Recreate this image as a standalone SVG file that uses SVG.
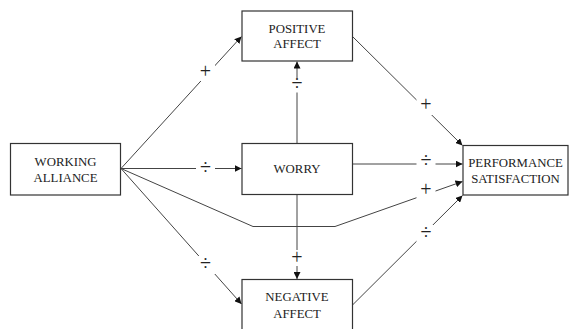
<svg xmlns="http://www.w3.org/2000/svg" width="569" height="329" viewBox="0 0 569 329">
<style>
.box{fill:#fff;stroke:#333;stroke-width:1.2}
.c{fill:none;stroke:#444;stroke-width:1}
.gap{fill:#fff}
</style>
<defs>
<marker id="ah" viewBox="0 0 10 10" refX="10" refY="5" markerWidth="7" markerHeight="7" markerUnits="userSpaceOnUse" orient="auto">
<path d="M0,0L10,5L0,10z" fill="#111"/>
</marker>
</defs>
<rect width="569" height="329" fill="#fff"/>
<g id="connectors">
<path class="c" d="M121,168.5L241.5,36.5" marker-end="url(#ah)"/>
<path class="c" d="M121,168.5L241.5,168.5" marker-end="url(#ah)"/>
<path class="c" d="M121,168.5L241.5,304" marker-end="url(#ah)"/>
<path class="c" d="M121,168.5L253,226.5L335,226.5L462.5,181.5" marker-end="url(#ah)"/>
<path class="c" d="M297,143L297,61.5" marker-end="url(#ah)"/>
<path class="c" d="M297,194.5L297,279" marker-end="url(#ah)"/>
<path class="c" d="M352.5,164L462.5,164" marker-end="url(#ah)"/>
<path class="c" d="M352.5,36.5L462.5,145.5" marker-end="url(#ah)"/>
<path class="c" d="M352.5,305L462.5,195.5" marker-end="url(#ah)"/>
<g class="gap">
<rect x="196" y="63" width="19" height="18"/>
<rect x="196" y="160.5" width="19" height="16"/>
<rect x="196" y="256" width="19" height="18"/>
<rect x="416.5" y="182" width="19" height="18"/>
<rect x="288" y="78.5" width="18" height="14"/>
<rect x="288" y="250" width="18" height="16"/>
<rect x="416.5" y="155.5" width="19" height="16"/>
<rect x="416.5" y="97" width="19" height="18"/>
<rect x="416.5" y="225" width="19" height="18"/>
</g>
<g font-family="'Liberation Serif', 'Times New Roman', serif" font-size="20" fill="#222" text-anchor="middle">
<text x="205.5" y="77.5">+</text>
<text x="205.5" y="173.5">÷</text>
<text x="205.5" y="270">÷</text>
<text x="426" y="196">+</text>
<text x="297" y="90">÷</text>
<text x="297" y="263.5">+</text>
<text x="426" y="167">÷</text>
<text x="426" y="111">+</text>
<text x="426" y="238.5">÷</text>
</g>
</g>
<g font-family="'Liberation Serif', 'Times New Roman', serif" font-size="12.8" fill="#222" text-anchor="middle">
<g id="working-alliance">
<rect class="box" x="10.5" y="143.5" width="110" height="51.5"/>
<text x="65.5" y="166">WORKING</text>
<text x="65.5" y="182">ALLIANCE</text>
</g>
<g id="positive-affect">
<rect class="box" x="242" y="11" width="110.5" height="50"/>
<text x="297" y="32.5">POSITIVE</text>
<text x="297" y="48">AFFECT</text>
</g>
<g id="worry">
<rect class="box" x="242" y="143.5" width="110.5" height="51"/>
<text x="297" y="173">WORRY</text>
</g>
<g id="negative-affect">
<rect class="box" x="242" y="279.5" width="110.5" height="55"/>
<text x="297" y="301">NEGATIVE</text>
<text x="297" y="318">AFFECT</text>
</g>
<g id="performance-satisfaction">
<rect class="box" x="463" y="145.5" width="105" height="49.5"/>
<text x="515.5" y="166.5">PERFORMANCE</text>
<text x="515.5" y="183">SATISFACTION</text>
</g>
</g>
</svg>
